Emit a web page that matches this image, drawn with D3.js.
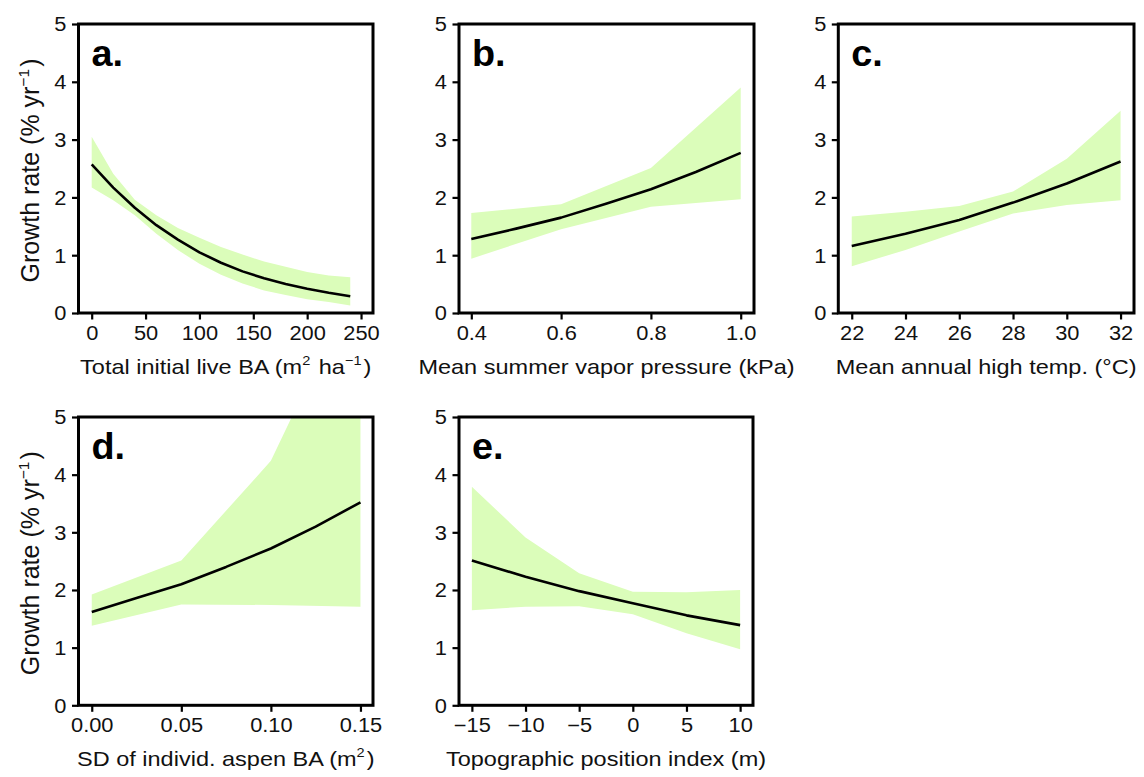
<!DOCTYPE html>
<html><head><meta charset="utf-8">
<script src="https://cdn.jsdelivr.net/npm/d3@7"></script>
<style>
html,body{margin:0;padding:0;background:#fff;}
svg{display:block;font-family:"Liberation Sans",Arial,Helvetica,sans-serif;}
</style></head>
<body>
<svg id="chart" width="1144" height="777"></svg>
<script>
// ---------- data ----------
const yTicks = [0, 1, 2, 3, 4, 5];

// panel a: total initial live BA
const aX   = [0, 20, 40, 60, 80, 100, 120, 140, 160, 180, 200, 220, 240];
const aFit = [2.57, 2.17, 1.82, 1.52, 1.27, 1.05, 0.87, 0.72, 0.60, 0.50, 0.42, 0.35, 0.29];
const aLo  = [2.17, 1.95, 1.69, 1.37, 1.09, 0.85, 0.66, 0.51, 0.39, 0.31, 0.24, 0.19, 0.13];
const aHi  = [3.05, 2.41, 1.96, 1.69, 1.47, 1.30, 1.14, 1.01, 0.89, 0.80, 0.71, 0.65, 0.62];
const aTicks = [0, 50, 100, 150, 200, 250];

// panel b: mean summer vapor pressure
const bLineX = [0.4, 0.5, 0.6, 0.7, 0.8, 0.9, 1.0];
const bFit   = [1.28, 1.46, 1.65, 1.89, 2.14, 2.44, 2.77];
const bBandX = [0.4, 0.6, 0.8, 1.0];
const bLo    = [0.94, 1.45, 1.84, 1.97];
const bHi    = [1.73, 1.88, 2.51, 3.90];
const bTicks = [0.4, 0.6, 0.8, 1.0];

// panel c: mean annual high temperature
const cX   = [22, 24, 26, 28, 30, 32];
const cFit = [1.16, 1.37, 1.61, 1.91, 2.24, 2.62];
const cLo  = [0.81, 1.09, 1.41, 1.72, 1.87, 1.95];
const cHi  = [1.67, 1.75, 1.85, 2.10, 2.67, 3.50];
const cTicks = [22, 24, 26, 28, 30, 32];

// panel d: SD of individual aspen BA
const dLineX = [0, 0.025, 0.05, 0.075, 0.10, 0.125, 0.15];
const dFit   = [1.62, 1.86, 2.10, 2.40, 2.72, 3.10, 3.52];
const dBandX = [0, 0.05, 0.10, 0.15];
const dLo    = [1.38, 1.75, 1.74, 1.71];
const dHi    = [1.92, 2.51, 4.24, 7.50];
const dTicks = [0, 0.05, 0.10, 0.15];

// panel e: topographic position index
const eX   = [-15, -10, -5, 0, 5, 10];
const eFit = [2.51, 2.23, 1.98, 1.77, 1.56, 1.39];
const eLo  = [1.65, 1.71, 1.72, 1.58, 1.25, 0.97];
const eHi  = [3.79, 2.91, 2.29, 1.97, 1.96, 2.00];
const eTicks = [-15, -10, -5, 0, 5, 10];

// ---------- drawing ----------
const svg = d3.select("#chart");
const TXT = "#111";
const BAND = "#dbfdba";
const SX = 1.12;          // horizontal stretch of the text
const TICK_FS = 19.5, TITLE_FS = 21, YTITLE_FS = 25, LABEL_FS = 36;

function supText(sel, parts, fs) {
  parts.forEach(p => {
    if (typeof p === "string") {
      sel.append("tspan").text(p);
    } else {
      sel.append("tspan").attr("font-size", fs * 0.62).attr("dy", -fs * 0.42).text(p.sup);
      sel.append("tspan").attr("font-size", fs).attr("dy", fs * 0.42).text("\u200A");
    }
  });
}

function panel(opt) {
  const {left, right, top, bottom, xDomain, ticks, fmt, label, title,
         bandX, lo, hi, lineX, fit, yTitle, clipId} = opt;
  const x = d3.scaleLinear().domain(xDomain).range([left, right]);
  const y = d3.scaleLinear().domain([0, 5]).range([bottom, top]);
  const g = svg.append("g");

  g.append("clipPath").attr("id", clipId)
    .append("rect").attr("x", left).attr("y", top)
    .attr("width", right - left).attr("height", bottom - top);

  const bandData = bandX.map((v, i) => ({x: v, lo: lo[i], hi: hi[i]}));
  g.append("path").datum(bandData)
    .attr("clip-path", `url(#${clipId})`)
    .attr("fill", BAND)
    .attr("d", d3.area().x(d => x(d.x)).y0(d => y(d.lo)).y1(d => y(d.hi)));

  const lineData = lineX.map((v, i) => ({x: v, y: fit[i]}));
  g.append("path").datum(lineData)
    .attr("fill", "none").attr("stroke", "#000").attr("stroke-width", 2.6)
    .attr("stroke-linejoin", "round")
    .attr("d", d3.line().x(d => x(d.x)).y(d => y(d.y)));

  // axes
  const xa = g.append("g").attr("transform", `translate(0,${bottom})`)
    .call(d3.axisBottom(x).tickValues(ticks).tickFormat(fmt).tickSize(6.5).tickPadding(5));
  const ya = g.append("g").attr("transform", `translate(${left},0)`)
    .call(d3.axisLeft(y).tickValues(yTicks).tickFormat(d3.format("d")).tickSize(6.5).tickPadding(5));
  [xa, ya].forEach(a => {
    a.select(".domain").remove();
    a.selectAll(".tick line").attr("stroke", "#000").attr("stroke-width", 2.2);
    a.selectAll(".tick text").attr("fill", TXT)
      .attr("font-size", TICK_FS)
      .attr("font-family", "Liberation Sans, Arial, sans-serif");
  });
  xa.selectAll(".tick text").attr("y", 13).attr("dy", "0.71em")
    .attr("transform", `scale(${SX},1)`);
  ya.selectAll(".tick text").attr("x", -12 / SX).attr("dy", "0.35em")
    .attr("transform", `scale(${SX},1)`);

  // frame
  g.append("rect").attr("x", left).attr("y", top)
    .attr("width", right - left).attr("height", bottom - top)
    .attr("fill", "none").attr("stroke", "#000").attr("stroke-width", 3);

  // panel label
  g.append("text")
    .attr("transform", `translate(${left + 13},${top + 42}) scale(1.05,1)`)
    .attr("font-size", LABEL_FS).attr("font-weight", "bold").attr("fill", "#000")
    .text(label);

  // x title
  const xt = g.append("text")
    .attr("transform", `translate(${(left + right) / 2},${bottom + 61}) scale(${SX},1)`)
    .attr("text-anchor", "middle").attr("font-size", TITLE_FS).attr("fill", TXT);
  supText(xt, title, TITLE_FS);

  if (yTitle) {
    const yt = g.append("text")
      .attr("transform", `translate(39,${(top + bottom) / 2 + 2}) rotate(-90)`)
      .attr("text-anchor", "middle").attr("font-size", YTITLE_FS).attr("fill", TXT);
    supText(yt, yTitle, YTITLE_FS);
  }
}

const yTitleParts = ["Growth rate (% yr", {sup: "\u22121"}, ")"];
const f0 = d3.format("d"), f1 = d3.format(".1f"), f2 = d3.format(".2f");

panel({left: 78.5, right: 373, top: 24, bottom: 313, xDomain: [-12.25, 261.1],
  ticks: aTicks, fmt: f0, label: "a.", clipId: "ca",
  title: ["Total initial live BA (m", {sup: "2"}, " ha", {sup: "\u22121"}, ")"],
  bandX: aX, lo: aLo, hi: aHi, lineX: aX, fit: aFit, yTitle: yTitleParts});

panel({left: 459, right: 754, top: 24, bottom: 313, xDomain: [0.3726, 1.0296],
  ticks: bTicks, fmt: f1, label: "b.", clipId: "cb",
  title: ["Mean summer vapor pressure (kPa)"],
  bandX: bBandX, lo: bLo, hi: bHi, lineX: bLineX, fit: bFit});

panel({left: 838.3, right: 1134, top: 24, bottom: 313, xDomain: [21.5, 32.5],
  ticks: cTicks, fmt: f0, label: "c.", clipId: "cc",
  title: ["Mean annual high temp. (\u00B0C)"],
  bandX: cX, lo: cLo, hi: cHi, lineX: cX, fit: cFit});

panel({left: 78.5, right: 373, top: 417, bottom: 705.3, xDomain: [-0.0074, 0.157],
  ticks: dTicks, fmt: f2, label: "d.", clipId: "cd",
  title: ["SD of individ. aspen BA (m", {sup: "2"}, ")"],
  bandX: dBandX, lo: dLo, hi: dHi, lineX: dLineX, fit: dFit, yTitle: yTitleParts});

panel({left: 459, right: 753, top: 417, bottom: 705.3, xDomain: [-16.2, 11.2],
  ticks: eTicks, fmt: f0, label: "e.", clipId: "ce",
  title: ["Topographic position index (m)"],
  bandX: eX, lo: eLo, hi: eHi, lineX: eX, fit: eFit});
</script>
</body></html>
